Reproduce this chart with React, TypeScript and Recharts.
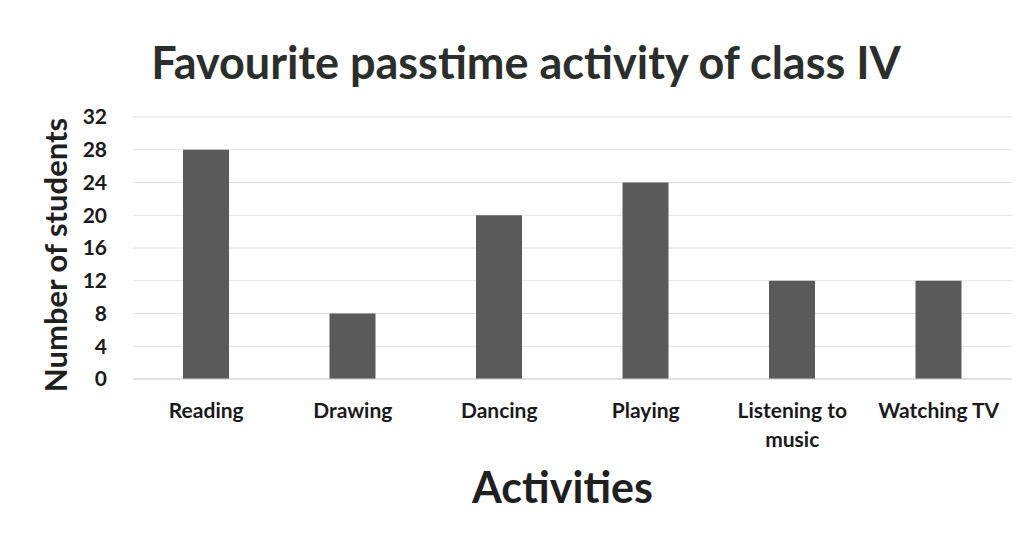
import { Bar, BarChart, CartesianGrid, Label, XAxis, YAxis } from 'recharts';

const ACTIVITIES = ['Reading', 'Drawing', 'Dancing', 'Playing', 'Listening to music', 'Watching TV'];
const STUDENTS = [28, 8, 20, 24, 12, 12];
const Y_TICKS = [0, 4, 8, 12, 16, 20, 24, 28, 32];

const FONT = 'Lato, "Open Sans", sans-serif';

const rows = ACTIVITIES.map((activity, i) => ({ activity, students: STUDENTS[i] }));

// split long category names onto two lines, like the spreadsheet does
function wrap(text: string, max = 12) {
  const lines: string[] = [];
  let line = '';
  for (const word of text.split(' ')) {
    const next = line ? `${line} ${word}` : word;
    if (next.length > max && line) {
      lines.push(line);
      line = word;
    } else {
      line = next;
    }
  }
  if (line) lines.push(line);
  return lines;
}

function ActivityTick(props: any) {
  const { x, y, payload } = props;
  const lines = wrap(String(payload.value));
  return (
    <text x={x} y={y} textAnchor="middle" fill="#1a1a1a" fontFamily={FONT} fontWeight={700} fontSize={21}>
      {lines.map((line, i) => (
        <tspan key={i} x={x} dy={i === 0 ? 31 : 29}>
          {line}
        </tspan>
      ))}
    </text>
  );
}

export default function App() {
  return (
    <div style={{ position: 'relative', width: 1032, height: 544, background: '#fff', margin: -8 }}>
      <div
        style={{
          position: 'absolute',
          top: 34,
          left: 10,
          width: 1032,
          textAlign: 'center',
          fontFamily: FONT,
          fontWeight: 700,
          fontSize: 45,
          color: '#2b2f2b',
          lineHeight: '56px',
        }}
      >
        Favourite passtime activity of class IV
      </div>
      <BarChart width={1032} height={544} data={rows} margin={{ top: 117, right: 20, bottom: 0, left: 0 }}>
        <CartesianGrid vertical={false} stroke="#e2e2e2" />
        <XAxis
          dataKey="activity"
          interval={0}
          tickLine={false}
          axisLine={{ stroke: '#d0d0d0' }}
          tick={<ActivityTick />}
          height={165}
        >
          <Label
            value="Activities"
            position="insideTop"
            offset={93}
            dx={-10}
            fill="#1f1f1f"
            fontFamily={FONT}
            fontWeight={700}
            fontSize={43}
          />
        </XAxis>
        <YAxis
          width={133}
          domain={[0, 32]}
          ticks={Y_TICKS}
          interval={0}
          tickLine={false}
          axisLine={false}
          tickMargin={20}
          tick={{ fill: '#1a1a1a', fontFamily: FONT, fontWeight: 700, fontSize: 21 }}
        >
          <Label
            value="Number of students"
            angle={-90}
            position="insideLeft"
            offset={56}
            dy={7}
            fill="#1f1f1f"
            fontFamily={FONT}
            fontWeight={700}
            fontSize={31}
            style={{ textAnchor: 'middle' }}
          />
        </YAxis>
        <Bar dataKey="students" fill="#5a5a5a" barSize={46} isAnimationActive={false} />
      </BarChart>
    </div>
  );
}
